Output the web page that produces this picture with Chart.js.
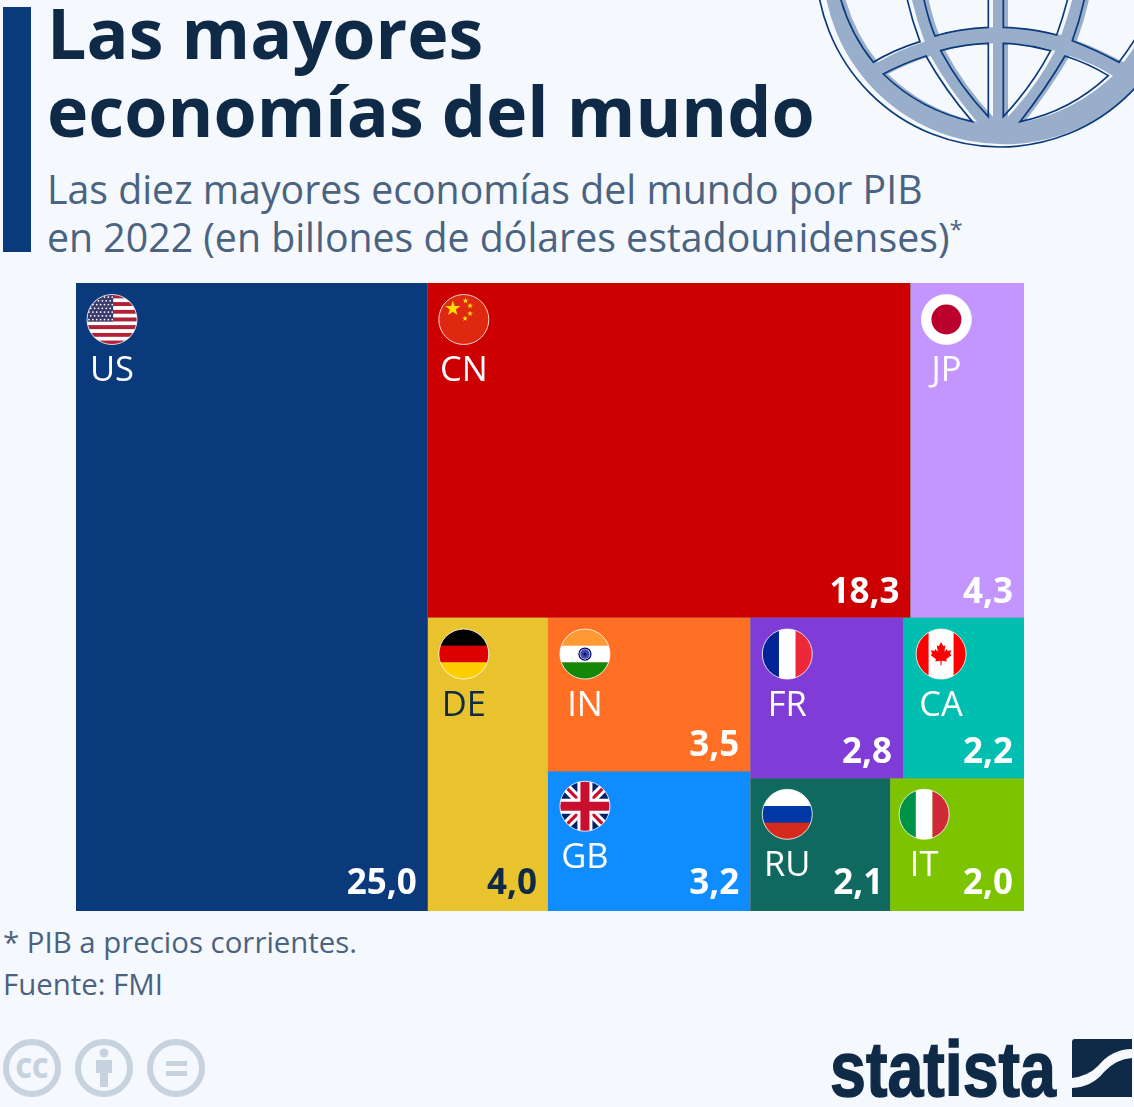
<!DOCTYPE html>
<html lang="es">
<head>
<meta charset="utf-8">
<title>Las mayores economías del mundo</title>
<script src="https://cdn.jsdelivr.net/npm/chart.js@4"></script>
<style>
    html, body { margin: 0; padding: 0; background: #f5f8fc; }
    body { position: relative; width: 1134px; height: 1107px; overflow: hidden; font-family: "Open Sans", sans-serif; }
    .abs { position: absolute; white-space: nowrap; }
    #bar { left: 3px; top: 7px; width: 28px; height: 245px; background: #0a3a7c; }
    .title { left: 47px; font-size: 69.9px; font-weight: 700; color: #0f2a47; line-height: 76px; }
    .sub { left: 47px; font-size: 39.25px; color: #4a6380; line-height: 48px; }
    .sub sup { font-size: 24px; line-height: 0; }
    .foot { left: 3px; font-size: 29.4px; color: #4a6380; line-height: 40px; }
    #art { left: 0; top: 0; }
    #box { left: 76px; top: 283px; width: 948px; height: 628px; background: #888; }
</style>
</head>
<body>
<svg id="art" class="abs" width="1134" height="1107" viewBox="0 0 1134 1107">
    <!-- globe, coordinates taken from a 3x crop -->
    <g transform="translate(800,0) scale(0.3333)">
        <circle cx="612" cy="-111" r="544" fill="#98aecb"/>
        <g id="shade" fill="#f5f8fc" transform="translate(14,0)">
            <path d="M120,-10 Q150,100 220,187 Q280,150 360,125 Q335,60 320,-10Z"/>
            <path d="M370,-10 Q385,60 405,108 Q480,85 565,82 L565,-10Z"/>
            <path d="M610,-10 L610,82 Q695,85 770,105 Q790,50 805,-10Z"/>
            <path d="M855,-10 Q840,60 817,122 Q890,150 957,187 Q1000,130 1040,60 L1040,-10Z"/>
            <path d="M250,222 Q310,190 378,168 Q435,270 517,365 Q360,330 250,222Z"/>
            <path d="M422,152 Q490,132 565,130 L565,350 Q480,260 422,152Z"/>
            <path d="M610,130 Q680,132 752,152 Q695,260 610,350Z"/>
            <path d="M795,168 Q865,190 925,227 Q810,335 660,365 Q735,270 795,168Z"/>
        </g>
        <g fill="none" stroke="#0a3a7c" stroke-width="5">
            <circle cx="600" cy="-111" r="552"/>
            <path d="M120,-10 Q150,100 220,187 Q280,150 360,125 Q335,60 320,-10"/>
            <path d="M370,-10 Q385,60 405,108 Q480,85 565,82 L565,-10"/>
            <path d="M610,-10 L610,82 Q695,85 770,105 Q790,50 805,-10"/>
            <path d="M855,-10 Q840,60 817,122 Q890,150 957,187 Q1000,130 1040,60"/>
            <path d="M250,222 Q310,190 378,168 Q435,270 517,365 Q360,330 250,222Z"/>
            <path d="M422,152 Q490,132 565,130 L565,350 Q480,260 422,152Z"/>
            <path d="M610,130 Q680,132 752,152 Q695,260 610,350Z"/>
            <path d="M795,168 Q865,190 925,227 Q810,335 660,365 Q735,270 795,168Z"/>
        </g>
    </g>
    <!-- creative commons icons -->
    <g fill="none" stroke="#c6d3de" stroke-width="6">
        <circle cx="32" cy="1068" r="26"/>
        <circle cx="104" cy="1068" r="26"/>
        <circle cx="176" cy="1068" r="26"/>
    </g>
    <text x="32" y="1078" text-anchor="middle" font-family="Open Sans" font-weight="800" font-size="29" fill="#c6d3de" textLength="33" lengthAdjust="spacingAndGlyphs">CC</text>
    <g fill="#c6d3de">
        <circle cx="104" cy="1053" r="4.5"/>
        <path d="M96,1060 H112 V1073 H108 V1087 H100 V1073 H96Z"/>
        <rect x="166" y="1061" width="21" height="5"/>
        <rect x="166" y="1071" width="21" height="5"/>
    </g>
    <!-- logo -->
    <text x="830" y="1096" font-family="Liberation Sans" font-weight="700" font-size="77" fill="#0f2a47" stroke="#0f2a47" stroke-width="1.5" textLength="226" lengthAdjust="spacingAndGlyphs">statista</text>
    <path d="M1072,1042 Q1072,1039 1075,1039 H1132 V1049 Q1112,1049 1098,1066 Q1088,1076 1072,1078Z" fill="#0f2a47"/>
    <path d="M1132,1058 V1097 H1072 V1088 Q1092,1087 1104,1072 Q1116,1059 1132,1058Z" fill="#0f2a47"/>
</svg>

<div id="bar" class="abs"></div>
<div class="abs title" style="top:-6px">Las mayores</div>
<div class="abs title" style="top:72px">economías del mundo</div>
<div class="abs sub" style="top:165px">Las diez mayores economías del mundo por PIB</div>
<div class="abs sub" style="top:213px">en 2022 (en billones de dólares estadounidenses)<sup>*</sup></div>
<div class="abs foot" style="top:922px">* PIB a precios corrientes.</div>
<div class="abs foot" style="top:964px">Fuente: FMI</div>

<div id="box" class="abs"><canvas id="treemap" width="948" height="628"></canvas></div>

<script>
    // -----------------------DATA-------------------- //
    var countries = ["US", "CN", "JP", "DE", "IN", "GB", "FR", "CA", "RU", "IT"];
    var gdp = [25.0, 18.27, 4.3, 3.99, 3.52, 3.2, 2.78, 2.2, 2.1, 2.01];
    var colors = ["#0a3a7c", "#cc0000", "#c396ff", "#e9c32e", "#ff6f24", "#0f8cff", "#7f3cd6", "#00bfb0", "#10695e", "#7dc400"];
    var textColors = ["#fff", "#fff", "#fff", "#0f2a47", "#fff", "#fff", "#fff", "#fff", "#fff", "#fff"];

    // how the boxes nest, h = side by side, v = on top of each other
    var tree = ["h", 0, ["v", ["h", 1, 2], ["h", 3, ["v", 4, 5], ["v", ["h", 6, 7], ["h", 8, 9]]]]];

    // small nudges of flag and code inside each box
    var nudgeX = [0, 0, 0, 0, 1, 1, 1, 2, 1, -2];
    var nudgeY = [0.5, 0.5, 0.5, 0.5, 0.5, -1, 0.5, 0.5, 0, 0];

    // -----------------------LAYOUT-------------------- //
    function weight(node) {
        if (typeof node === "number") return gdp[node];
        var sum = 0;
        for (var i = 1; i < node.length; i++) sum += weight(node[i]);
        return sum;
    }

    var rects = [];
    var total = weight(tree);

    function split(node, x0, y0, x1, y1) {
        if (typeof node === "number") {
            rects[node] = { x0: x0, y0: y0, x1: x1, y1: y1 };
            return;
        }
        var all = weight(node);
        var done = 0;
        for (var i = 1; i < node.length; i++) {
            var w = weight(node[i]);
            if (node[0] === "h") {
                split(node[i], x0 + (x1 - x0) * done / all, y0, x0 + (x1 - x0) * (done + w) / all, y1);
            } else {
                split(node[i], x0, y0 + (y1 - y0) * done / all, x1, y0 + (y1 - y0) * (done + w) / all);
            }
            done += w;
        }
    }
    split(tree, 0, 0, total, 1);

    // -----------------------FLAGS-------------------- //
    function bands(ctx, list, vertical) {
        var n = list.length;
        list.forEach((c, i) => {
            ctx.fillStyle = c;
            if (vertical) ctx.fillRect(-1 + 2 * i / n, -1, 2 / n + 0.01, 2);
            else ctx.fillRect(-1, -1 + 2 * i / n, 2, 2 / n + 0.01);
        });
    }

    function star(ctx, x, y, r, color) {
        ctx.fillStyle = color;
        ctx.beginPath();
        for (var i = 0; i < 10; i++) {
            var a = -Math.PI / 2 + i * Math.PI / 5;
            var rr = i % 2 ? r * 0.4 : r;
            ctx.lineTo(x + rr * Math.cos(a), y + rr * Math.sin(a));
        }
        ctx.fill();
    }

    var flags = {
        US: (ctx) => {
            for (var i = 0; i < 13; i++) {
                ctx.fillStyle = i % 2 ? "#fff" : "#b22234";
                ctx.fillRect(-1, -1 + i * 2 / 13, 2, 2 / 13 + 0.01);
            }
            ctx.fillStyle = "#3c3b6e";
            ctx.fillRect(-1, -1, 1.05, 1.08);
            ctx.fillStyle = "#fff";
            for (var r = 0; r < 7; r++) {
                for (var c = 0; c < 7; c++) {
                    ctx.beginPath();
                    ctx.arc(-0.92 + c * 0.155 + (r % 2) * 0.07, -0.9 + r * 0.15, 0.035, 0, 7);
                    ctx.fill();
                }
            }
        },
        CN: (ctx) => {
            bands(ctx, ["#de2910"], false);
            star(ctx, -0.44, -0.44, 0.32, "#ffde00");
            star(ctx, 0.07, -0.75, 0.12, "#ffde00");
            star(ctx, 0.25, -0.55, 0.12, "#ffde00");
            star(ctx, 0.25, -0.24, 0.12, "#ffde00");
            star(ctx, 0.05, -0.04, 0.12, "#ffde00");
        },
        JP: (ctx) => {
            bands(ctx, ["#fff"], false);
            ctx.fillStyle = "#bc002d";
            ctx.beginPath();
            ctx.arc(0, 0, 0.6, 0, 7);
            ctx.fill();
        },
        DE: (ctx) => bands(ctx, ["#000", "#dd0000", "#ffce00"], false),
        IN: (ctx) => {
            bands(ctx, ["#ff9933", "#fff", "#138808"], false);
            ctx.strokeStyle = "#000080";
            ctx.lineWidth = 0.05;
            ctx.beginPath();
            ctx.arc(0, 0, 0.24, 0, 7);
            ctx.stroke();
            ctx.fillStyle = "#3a4aa0";
            ctx.beginPath();
            ctx.arc(0, 0, 0.19, 0, 7);
            ctx.fill();
            ctx.fillStyle = "#000080";
            ctx.beginPath();
            ctx.arc(0, 0, 0.06, 0, 7);
            ctx.fill();
        },
        GB: (ctx) => {
            bands(ctx, ["#012169"], false);
            ctx.strokeStyle = "#fff";
            ctx.lineWidth = 0.36;
            ctx.beginPath();
            ctx.moveTo(-1, -1); ctx.lineTo(1, 1);
            ctx.moveTo(1, -1); ctx.lineTo(-1, 1);
            ctx.stroke();
            ctx.strokeStyle = "#c8102e";
            ctx.lineWidth = 0.13;
            ctx.stroke();
            ctx.fillStyle = "#fff";
            ctx.fillRect(-1, -0.3, 2, 0.6);
            ctx.fillRect(-0.3, -1, 0.6, 2);
            ctx.fillStyle = "#c8102e";
            ctx.fillRect(-1, -0.18, 2, 0.36);
            ctx.fillRect(-0.18, -1, 0.36, 2);
        },
        FR: (ctx) => bands(ctx, ["#002395", "#fff", "#ed2939"], true),
        CA: (ctx) => {
            bands(ctx, ["#ff0000"], true);
            ctx.fillStyle = "#fff";
            ctx.fillRect(-0.5, -1, 1, 2);
            ctx.fillStyle = "#ff0000";
            ctx.beginPath();
            var leaf = [[0, -0.62], [0.12, -0.4], [0.22, -0.45], [0.17, -0.12], [0.3, -0.26], [0.34, -0.16], [0.52, -0.2], [0.46, 0], [0.54, 0.05], [0.26, 0.27], [0.3, 0.38], [0.03, 0.34], [0.03, 0.58], [-0.03, 0.58], [-0.03, 0.34], [-0.3, 0.38], [-0.26, 0.27], [-0.54, 0.05], [-0.46, 0], [-0.52, -0.2], [-0.34, -0.16], [-0.3, -0.26], [-0.17, -0.12], [-0.22, -0.45], [-0.12, -0.4]];
            leaf.forEach((p) => ctx.lineTo(p[0] * 0.78, p[1] * 0.78));
            ctx.fill();
        },
        RU: (ctx) => bands(ctx, ["#fff", "#0039a6", "#d52b1e"], false),
        IT: (ctx) => bands(ctx, ["#009246", "#fff", "#ce2b37"], true)
    };

    function draw_flag(ctx, code, x, y, radius) {
        ctx.save();
        ctx.translate(x, y);
        ctx.save();
        ctx.beginPath();
        ctx.arc(0, 0, radius, 0, 7);
        ctx.clip();
        ctx.scale(radius, radius);
        flags[code](ctx);
        ctx.restore();
        ctx.beginPath();
        ctx.arc(0, 0, radius, 0, 7);
        ctx.strokeStyle = "rgba(255,255,255,0.8)";
        ctx.lineWidth = 1;
        ctx.stroke();
        ctx.restore();
    }

    // -----------------------CHART-------------------- //
    var labels_plugin = {
        id: "labels_plugin",
        afterDatasetsDraw: (chart) => {
            var ctx = chart.ctx;
            var sx = chart.scales.x;
            var sy = chart.scales.y;
            ctx.save();
            countries.forEach((code, i) => {
                var left = sx.getPixelForValue(rects[i].x0) + nudgeX[i];
                var right = sx.getPixelForValue(rects[i].x1);
                var top = sy.getPixelForValue(rects[i].y0) + nudgeY[i];
                var bottom = sy.getPixelForValue(rects[i].y1);
                draw_flag(ctx, code, left + 36, top + 36, 25);
                ctx.fillStyle = textColors[i];
                ctx.textAlign = "center";
                ctx.textBaseline = "alphabetic";
                ctx.font = "34.5px 'Open Sans'";
                ctx.fillText(code, left + 36, top + 97.5);
                // value sits by its visible right edge, not by its advance width
                ctx.textAlign = "left";
                ctx.font = "bold 35px 'Open Sans'";
                var text = gdp[i].toFixed(1).replace(".", ",");
                var edge = ctx.measureText(text).actualBoundingBoxRight;
                var lift = rects[i].y1 === 1 ? 17 : 15;
                ctx.fillText(text, right - 12 - edge, bottom - lift);
            });
            ctx.restore();
        }
    };

    var chart = new Chart(document.getElementById("treemap").getContext("2d"), {
        type: "scatter",
        data: {
            datasets: countries.map((code, i) => ({
                label: code,
                data: [{ x: rects[i].x0, y: rects[i].y0 }, { x: rects[i].x1, y: rects[i].y0 }],
                showLine: true,
                pointRadius: 0,
                borderWidth: 0,
                backgroundColor: colors[i],
                fill: { value: rects[i].y1 }
            }))
        },
        options: {
            responsive: false,
            animation: false,
            layout: { padding: 0 },
            plugins: { legend: { display: false }, tooltip: { enabled: false }, title: { display: false } },
            scales: {
                x: { type: "linear", display: false, min: 0, max: total },
                y: { type: "linear", display: false, min: 0, max: 1, reverse: true }
            }
        },
        plugins: [labels_plugin]
    });
</script>
</body>
</html>
